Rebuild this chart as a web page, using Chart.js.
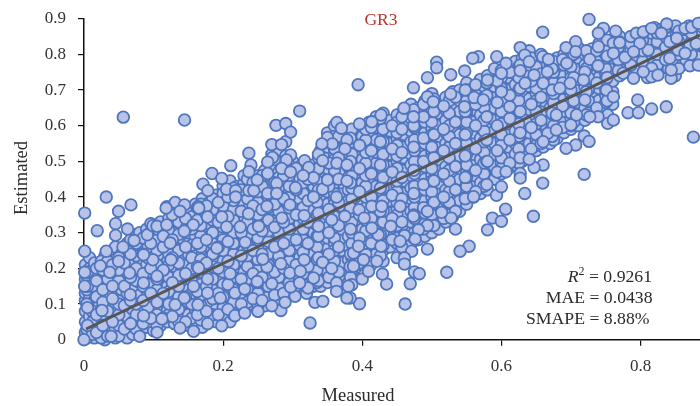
<!DOCTYPE html>
<html>
<head>
<meta charset="utf-8">
<script src="https://cdn.jsdelivr.net/npm/chart.js@4"></script>
<style>html,body{margin:0;padding:0;background:#fff;overflow:hidden}canvas{display:block}</style>
</head>
<body>
<canvas id="c" width="700" height="406"></canvas>
<script>
const xTicks = [0, 0.2, 0.4, 0.6, 0.8];
const yTicks = [0, 0.1, 0.2, 0.3, 0.4, 0.5, 0.6, 0.7, 0.8, 0.9];
const fitLineX = [0.003, 0.8855];
const fitLineY = [0.03, 0.854];

const columnsLow = [
[.002,[.02,.05,.08,.11,.13,.17,.21]],[.008,[.01,.035,.065,.095,.125,.16,.2,.23]],
[.015,[.005,.03,.06,.085,.11,.14,.175,.215]],[.022,[.012,.045,.075,.1,.13,.155,.19]],
[.03,[0,.025,.055,.09,.12,.15,.18,.21,.235]],[.038,[.015,.04,.07,.105,.135,.165,.2]],
[.045,[.005,.03,.06,.09,.125,.155,.185,.225,.26]],[.054,[.02,.05,.08,.11,.14,.17,.205,.24]],
[.062,[.005,.035,.065,.1,.13,.16,.195,.23,.27]],[.07,[.015,.05,.085,.115,.15,.18,.215,.25,.295]],
[.08,[.03,.06,.095,.125,.16,.195,.225,.265,.3]],[.09,[.035,.07,.105,.14,.175,.21,.245,.275,.31]],
[.1,[.025,.055,.09,.12,.155,.19,.225,.26,.29]],[.11,[.04,.075,.11,.145,.18,.205,.24,.275,.305,.33]],
[.12,[.05,.085,.12,.15,.19,.22,.25,.29,.32]],[.13,[.045,.075,.11,.14,.17,.205,.24,.265,.3,.335,.36]],
[.14,[.06,.095,.13,.16,.19,.225,.255,.285,.32,.35]],[.15,[.04,.07,.105,.14,.175,.21,.24,.27,.3,.335,.365]],
[.16,[.05,.085,.12,.155,.185,.22,.255,.29,.32,.35,.38]],[.17,[.035,.075,.11,.14,.17,.205,.24,.275,.305,.34,.365,.395]],
[.18,[.06,.1,.13,.16,.195,.23,.26,.29,.325,.355,.385]],[.19,[.05,.085,.12,.15,.18,.215,.245,.275,.31,.34,.37,.405]],
[.2,[.07,.105,.14,.17,.205,.235,.265,.295,.33,.36,.39,.43]],[.21,[.05,.09,.125,.16,.195,.225,.255,.285,.32,.35,.38,.41,.445]],
[.22,[.08,.115,.15,.185,.215,.245,.275,.31,.34,.37,.395,.43]],[.23,[.09,.12,.155,.19,.22,.25,.28,.315,.345,.38,.41,.44,.46]],
[.24,[.1,.135,.17,.2,.235,.265,.295,.325,.36,.39,.425,.455,.49]],[.25,[.08,.115,.145,.18,.21,.24,.27,.3,.335,.37,.4,.43,.46]],
[.26,[.095,.13,.165,.195,.225,.255,.29,.32,.35,.385,.415,.445,.475]],[.27,[.11,.14,.175,.205,.235,.27,.3,.33,.365,.395,.425,.455,.49,.52]],
[.28,[.1,.13,.16,.19,.22,.25,.285,.315,.345,.375,.41,.44,.47,.5,.53]],[.29,[.115,.145,.175,.205,.235,.265,.3,.33,.36,.39,.42,.45,.485,.515,.555]]
];
const columnsMid = [
[.3,[.135,.165,.195,.225,.255,.285,.315,.345,.38,.41,.44,.47,.5]],[.31,[.14,.17,.2,.23,.265,.295,.325,.36,.395,.425,.455,.485]],
[.32,[.13,.16,.19,.22,.25,.28,.31,.345,.375,.405,.435,.47]],[.33,[.15,.18,.21,.24,.27,.3,.335,.365,.395,.43,.46,.49]],
[.34,[.15,.18,.21,.245,.275,.31,.34,.37,.405,.44,.47,.5,.53]],[.35,[.16,.19,.225,.255,.285,.315,.35,.38,.415,.45,.48,.51,.54,.58]],
[.36,[.175,.205,.24,.27,.3,.33,.365,.395,.425,.46,.49,.52,.55,.6]],[.37,[.14,.18,.215,.25,.28,.31,.345,.375,.41,.44,.475,.505,.54,.565]],
[.38,[.16,.19,.225,.26,.29,.325,.355,.39,.42,.455,.485,.515,.55,.58]],[.39,[.2,.235,.27,.3,.335,.365,.4,.43,.465,.495,.525,.56,.59]],
[.4,[.17,.21,.245,.28,.31,.345,.375,.41,.44,.475,.505,.54,.57,.6]],[.41,[.225,.255,.29,.32,.355,.385,.42,.45,.485,.515,.55,.58,.61]],
[.42,[.24,.27,.3,.335,.365,.4,.43,.465,.495,.525,.56,.595,.625]],[.43,[.22,.25,.28,.315,.345,.375,.41,.44,.475,.51,.54,.57,.605,.635]],
[.44,[.26,.295,.325,.355,.39,.42,.455,.485,.52,.55,.585,.615]],[.45,[.23,.27,.305,.335,.365,.4,.43,.465,.5,.53,.565,.595,.63]],
[.46,[.25,.285,.315,.35,.38,.41,.445,.475,.51,.54,.575,.605,.64]],[.47,[.27,.3,.33,.36,.395,.425,.46,.49,.52,.555,.585,.62,.66]],
[.48,[.28,.31,.345,.375,.405,.44,.47,.505,.535,.57,.6,.63,.65]],[.49,[.29,.325,.355,.39,.42,.45,.485,.515,.55,.58,.61,.645,.67]],
[.5,[.3,.335,.365,.4,.43,.46,.495,.525,.56,.59,.625,.655,.69]],[.51,[.31,.345,.38,.41,.44,.475,.505,.54,.57,.6,.635,.665]],
[.52,[.33,.36,.39,.42,.455,.485,.52,.55,.58,.615,.645,.68]],[.53,[.345,.375,.405,.435,.47,.5,.53,.565,.595,.63,.66,.695]],
[.54,[.36,.39,.42,.45,.48,.515,.545,.575,.61,.64,.67,.7]],[.55,[.38,.41,.44,.47,.5,.53,.56,.59,.62,.655,.685,.72]],
[.56,[.4,.43,.46,.49,.52,.55,.58,.61,.645,.675,.705]],[.57,[.41,.44,.475,.505,.535,.565,.595,.63,.66,.69,.73]]
];
const columnsHigh = [
[.58,[.42,.45,.48,.515,.545,.575,.605,.64,.67,.7,.74]],[.59,[.45,.485,.52,.55,.585,.615,.65,.68,.71,.76]],
[.6,[.465,.495,.53,.56,.59,.625,.655,.69,.72,.755]],[.61,[.48,.51,.54,.575,.605,.64,.67,.7,.735,.77]],
[.62,[.49,.52,.55,.585,.62,.65,.68,.715,.745,.78]],[.63,[.5,.53,.565,.595,.63,.66,.695,.725,.76,.79]],
[.64,[.52,.55,.58,.61,.645,.675,.71,.74,.77,.81]],[.65,[.53,.56,.59,.625,.655,.69,.72,.75,.78]],
[.66,[.54,.575,.605,.64,.67,.7,.735,.77]],[.67,[.55,.585,.615,.65,.68,.715,.745,.775]],
[.68,[.565,.6,.63,.66,.695,.725,.755,.79]],[.69,[.58,.61,.64,.675,.705,.74,.77,.8]],
[.7,[.59,.62,.655,.685,.72,.75,.78,.81]],[.71,[.6,.635,.665,.7,.73,.76,.79,.82]],
[.72,[.615,.65,.68,.71,.74,.77,.8]],[.73,[.63,.66,.695,.725,.755,.785,.815]],
[.74,[.64,.67,.705,.735,.765,.795,.83]],[.75,[.65,.685,.715,.745,.78,.81]],
[.76,[.66,.695,.725,.76,.79,.82]],[.77,[.74,.77,.8,.85]],[.78,[.755,.785,.815]],[.79,[.74,.77,.8,.84]],
[.8,[.76,.79,.82,.85]],[.81,[.735,.77,.8,.83,.865]],[.82,[.75,.785,.815,.85,.875]],[.83,[.76,.795,.825,.87]],
[.84,[.775,.81,.84,.865]],[.85,[.74,.785,.82,.85,.88]],[.86,[.77,.8,.83,.865]],[.87,[.79,.81,.85,.88]],[.88,[.78,.81,.84,.865]]
];
const columnsExtra = [
[.005,[.04,.09,.15,.19]],[.018,[.02,.07,.12,.165,.2]],[.027,[.04,.105,.14,.195]],[.041,[.05,.115,.15,.21]],
[.058,[.03,.095,.15,.215]],[.067,[.045,.11,.175,.24,.28]],[.085,[.045,.11,.15,.185,.24,.285]],[.096,[.06,.13,.2,.27,.325]],
[.114,[.06,.13,.195,.26,.29]],[.127,[.065,.16,.23,.28,.35]],[.146,[.05,.12,.185,.26,.31,.34]],[.163,[.07,.135,.205,.27,.335,.37]],
[.176,[.08,.15,.215,.28,.35,.375]],[.193,[.07,.13,.2,.26,.33,.385]],[.207,[.085,.155,.22,.275,.345,.4]],[.226,[.1,.17,.235,.3,.36,.42]],
[.243,[.115,.185,.25,.31,.375,.44]],[.256,[.11,.175,.24,.305,.365,.43,.46]],[.274,[.125,.19,.26,.315,.38,.44,.505]],[.287,[.13,.2,.27,.33,.395,.46]],
[.305,[.15,.21,.28,.35,.42,.48]],[.322,[.145,.205,.27,.33,.39,.45]],[.337,[.165,.23,.29,.355,.42,.48,.51]],[.352,[.175,.24,.3,.365,.43,.495,.555]],
[.366,[.19,.26,.32,.385,.45,.51,.57]],[.383,[.175,.24,.31,.37,.44,.5,.565]],[.396,[.215,.285,.35,.415,.48,.545,.605]],[.413,[.21,.27,.34,.4,.465,.53,.595]],
[.426,[.235,.295,.36,.425,.49,.555,.62]],[.443,[.28,.34,.405,.47,.535,.6]],[.457,[.26,.33,.395,.455,.525,.59,.625]],[.474,[.285,.35,.41,.475,.54,.6,.645]],
[.488,[.31,.37,.435,.5,.565,.625,.66]],[.503,[.32,.385,.445,.51,.575,.64,.675]],[.517,[.34,.4,.465,.53,.59,.655]],[.534,[.36,.42,.485,.55,.61,.68]],
[.548,[.395,.455,.515,.575,.64,.7]],[.563,[.415,.475,.535,.6,.66,.715]],[.579,[.435,.5,.56,.625,.685,.72]],[.594,[.47,.53,.6,.665,.725]],
[.612,[.495,.56,.62,.685,.75]],[.627,[.51,.58,.64,.705,.77]],[.643,[.535,.595,.66,.725,.79]],[.657,[.55,.615,.68,.745,.8]],
[.673,[.57,.635,.7,.76]],[.688,[.595,.655,.72,.785]],[.704,[.61,.67,.735,.8]],[.722,[.63,.695,.76,.81]],
[.737,[.65,.72,.78,.81]],[.752,[.67,.735,.795,.84]],[.768,[.755,.785,.82]],[.786,[.77,.83,.85]],
[.803,[.78,.81,.84,.86]],[.824,[.77,.8,.835,.86]],[.836,[.785,.82,.85,.875]],[.855,[.76,.8,.835,.865]],[.873,[.8,.835,.86]]
];
const columnsFill = [
[.004,[.005,.03,.1,.14,.18]],[.012,[.015,.05,.08,.15,.185]],[.025,[.005,.06,.085,.17,.22]],[.034,[.01,.08,.13,.17,.22]],
[.05,[.01,.04,.07,.1,.165,.195,.23]],[.075,[.03,.07,.1,.165,.2,.235,.27]],[.092,[.05,.09,.155,.19,.23,.26,.295]],
[.105,[.04,.07,.105,.14,.17,.21,.25,.28,.31]],[.122,[.07,.1,.135,.175,.21,.24,.27,.305,.34]],[.136,[.05,.085,.12,.15,.18,.215,.25,.295,.33]],
[.155,[.06,.1,.13,.165,.2,.23,.265,.31,.345]],[.168,[.055,.095,.125,.155,.19,.225,.26,.29,.32,.35,.38]],
[.185,[.07,.115,.14,.17,.205,.24,.27,.3,.335,.365,.395]],[.2,[.09,.12,.155,.19,.22,.25,.28,.315,.345,.375,.41]],
[.215,[.07,.105,.14,.175,.21,.24,.27,.3,.335,.365,.39,.425]],[.235,[.105,.14,.17,.205,.235,.265,.295,.33,.365,.395,.425,.45]],
[.25,[.095,.13,.16,.195,.225,.255,.285,.32,.35,.385,.415,.445]],[.265,[.12,.15,.18,.21,.24,.275,.305,.335,.37,.4,.43,.46]],
[.28,[.115,.145,.175,.205,.235,.265,.3,.33,.36,.39,.425,.455]],[.295,[.13,.16,.19,.22,.25,.28,.31,.34,.37,.4,.43,.46,.49]],
[.315,[.155,.185,.215,.245,.28,.31,.34,.37,.41,.44,.47]],[.335,[.16,.195,.225,.26,.29,.32,.35,.385,.41,.445,.475]],
[.36,[.185,.22,.25,.285,.315,.345,.38,.41,.44,.475,.505,.535,.57]],[.385,[.195,.23,.27,.3,.33,.36,.395,.425,.46,.49,.52,.555,.59]],
[.405,[.24,.27,.305,.335,.37,.4,.43,.46,.495,.525,.56,.59]],[.43,[.265,.3,.33,.36,.39,.425,.455,.49,.52,.555,.59]],
[.45,[.285,.32,.35,.385,.415,.445,.48,.515,.545,.58,.61]],[.475,[.3,.34,.37,.4,.43,.465,.5,.53,.56,.595,.63]],
[.5,[.32,.35,.38,.415,.445,.48,.51,.54,.575,.61,.64,.67]],[.525,[.35,.385,.415,.445,.475,.51,.54,.57,.6,.635,.67]],
[.55,[.4,.43,.455,.49,.52,.55,.58,.61,.64,.67,.7]],[.575,[.43,.465,.495,.525,.555,.585,.615,.65,.68,.71]],
[.6,[.48,.51,.545,.575,.605,.64,.67,.705,.735]],[.625,[.495,.535,.57,.605,.64,.67,.7,.735,.765]],
[.65,[.545,.575,.605,.64,.67,.705,.735,.765]],[.675,[.56,.6,.63,.665,.69,.72,.75,.78]],
[.7,[.6,.635,.67,.7,.735,.765,.795]],[.725,[.635,.67,.7,.735,.765,.8]],[.75,[.665,.7,.73,.76,.79,.82]],
[.77,[.76,.79,.81,.835]],[.795,[.755,.785,.81,.83,.855]],[.815,[.75,.78,.81,.84,.86]],[.84,[.76,.795,.83,.85]],
[.865,[.785,.815,.845,.87]],[.88,[.795,.825,.85]]
];
const edgeLeft = [
[.0565,.624],[.1445,.616],[.032,.4],[.0675,.378],[.119,.373],[.131,.385],[.1445,.378],[.164,.373],[.001,.355],[.019,.3056],
[.0497,.36],[.0454,.3253],[.0626,.3103],[.0454,.2925],[.072,.278],[.001,.248],[.032,.248],[.056,.26],[.091,.294],[.099,.3196],
[.105,.318],[.119,.322],[.118,.369],[.138,.36],[.165,.369],[.157,.322],[.144,.304],[.1776,.344],[.198,.344],[.205,.316],
[.2245,.316],[.2365,.353],[.251,.318],[.263,.374],[.2844,.341],[.296,.378],[.3165,.348],[.337,.318],[.356,.336],[.375,.346],
[.124,.271],[.099,.224],[.0856,.238],[.0497,.22],[.0234,.207],[.001,.189],[.037,.189],[.0655,.187],[.001,.15],[.0856,.159],
[.105,.178],[.125,.224],[.1646,.201],[.191,.257],[.2317,.273],[.21,.185],[.1776,.17],[.1575,.15],[.0665,.126],[.0258,.082],
[.0856,.0673],[.112,.058],[.138,.033],[.1575,.0234],[.105,.0206],[.1776,.0449],[.198,.039],[.08,.0094],[.039,.0094],[0,0],
[.217,.0673],[.231,.075],[.25,.0795],[.283,.082],[.325,.047],[.332,.1047],[.3433,.1075],[.3035,.1215],[.289,.1047],[.27,.095],
[.1637,.098],[.144,.117],[.131,.098],[.196,.117],[.1776,.131],[.217,.131],[.231,.142],[.249,.163],[.27,.157],[.297,.148],
[.31,.159],[.296,.187],[.311,.192],[.283,.213],[.263,.204],[.257,.226],[.3165,.224],[.33,.173],[.343,.217],[.356,.2]
];
const edgeUpperMiddle = [
[.31,.641],[.276,.601],[.29,.606],[.297,.582],[.27,.547],[.284,.547],[.237,.523],[.297,.518],[.271,.511],[.211,.488],
[.264,.498],[.291,.504],[.184,.466],[.198,.452],[.237,.471],[.264,.466],[.284,.48],[.297,.47],[.317,.502],[.323,.483],
[.337,.52],[.343,.502],[.3635,.495],[.3635,.609],[.37,.593],[.35,.567],[.357,.549],[.342,.549],[.378,.56],[.375,.535],
[.171,.436],[.178,.418],[.205,.422],[.218,.418],[.218,.4],[.237,.418],[.244,.418],[.249,.448],[.277,.438],[.264,.41],
[.277,.41],[.304,.426],[.33,.454],[.343,.422],[.35,.448],[.378,.49],[.315,.46],[.33,.4],[.363,.4],[.378,.445]
];
const edgeUpperRight = [
[.726,.898],[.7466,.873],[.7394,.859],[.7643,.865],[.6594,.862],[.7394,.8215],[.7068,.8355],[.693,.819],[.7068,.8075],[.627,.819],
[.6336,.798],[.64,.7794],[.6594,.7934],[.6676,.786],[.5933,.7934],[.6067,.775],[.567,.7934],[.5588,.789],[.507,.778],[.507,.7626],
[.4937,.7346],[.5272,.7429],[.5473,.7532],[.394,.715],[.4736,.7065],[.58,.728],[.6,.747],[.627,.754],[.647,.742],[.666,.751],
[.694,.775],[.72,.751],[.727,.786],[.739,.768],[.761,.831],[.77,.833],[.761,.803],[.7777,.7916],[.775,.747],[.79,.733],
[.794,.859],[.804,.863],[.816,.873],[.8376,.885],[.83,.859],[.864,.873],[.8735,.876],[.883,.887],[.842,.8355],[.852,.845],
[.811,.812],[.799,.831],[.79,.807],[.842,.789],[.871,.826],[.88,.83],[.871,.768],[.883,.77],[.816,.761],[.844,.733],
[.816,.737],[.825,.742],[.844,.756],[.804,.751],[.854,.812],[.864,.803],
[.4137,.611],[.427,.63],[.46,.649],[.4736,.625],[.4937,.681],[.527,.689],[.502,.667],[.547,.653],[.5607,.679],[.574,.672],
[.6,.695],[.612,.653],[.634,.719],[.66,.719],[.684,.705],[.699,.719],[.718,.728],[.751,.7],[.761,.681]
];
const edgeLowerRight = [
[.796,.672],[.782,.6364],[.797,.6364],[.816,.647],[.837,.653],[.876,.568],[.7528,.63],[.7528,.6065],[.761,.616],[.739,.625],
[.719,.571],[.726,.556],[.7068,.546],[.693,.5364],[.719,.4635],[.66,.49],[.647,.483],[.6594,.439],[.64,.5056],[.627,.4663],
[.627,.453],[.6336,.41],[.593,.405],[.6,.429],[.56,.401],[.6067,.471],[.58,.5],[.6666,.5785],[.66,.555],[.679,.63],
[.7,.602],[.679,.588],[.72,.672],[.708,.63],[.727,.625],
[.646,.346],[.606,.366],[.587,.341],[.6,.332],[.58,.308],[.534,.31],[.5277,.341],[.514,.357],[.4937,.36],[.4937,.32],
[.4937,.254],[.5536,.262],[.5406,.248],[.471,.248],[.4607,.229],[.4607,.212],[.475,.19],[.482,.185],[.5215,.189],[.469,.157],
[.435,.156],[.429,.184],[.4616,.1],[.396,.101],[.409,.215],[.409,.192],[.3874,.243],[.427,.262],[.423,.294],[.441,.318],
[.4607,.292],[.4736,.346],[.4808,.308],[.4544,.276],[.476,.282],[.385,.154],[.3826,.205],[.3874,.206],[.3946,.262],[.4137,.374],
[.428,.374],[.4544,.374],[.3955,.364],[.4027,.341],[.4137,.313],[.4018,.224],[.421,.22],[.3826,.117],[.378,.117],[.38,.15],
[.363,.159],[.363,.1355]
];

const pts = [];
[columnsLow, columnsMid, columnsHigh, columnsFill, columnsExtra].forEach(g => g.forEach(([x, ys]) => ys.forEach(y => pts.push({x, y}))));
[edgeLeft, edgeUpperMiddle, edgeUpperRight, edgeLowerRight].forEach(g => g.forEach(([x, y]) => pts.push({x, y})));

const serif = '"Liberation Serif", serif';
const textPlugin = {
  id: 'texts',
  afterDraw(chart) {
    const c = chart.ctx;
    c.save();
    c.textBaseline = 'alphabetic';
    c.fillStyle = '#b5372e';
    c.font = '17.5px ' + serif;
    c.textAlign = 'center';
    c.fillText('GR3', 381, 24.5);
    c.fillStyle = '#2b2b2b';
    c.font = '18.5px ' + serif;
    c.fillText('Measured', 358, 401);
    c.save();
    c.translate(26.5, 178);
    c.rotate(-Math.PI / 2);
    c.fillText('Estimated', 0, 0);
    c.restore();
    c.textAlign = 'right';
    c.font = '17.7px ' + serif;
    c.fillText('MAE = 0.0438', 652.5, 302.5);
    c.fillText('SMAPE = 8.88%', 649.5, 324);
    c.fillText(' = 0.9261', 652, 282);
    const w = c.measureText(' = 0.9261').width;
    c.font = '12px ' + serif;
    c.fillText('2', 652 - w, 275);
    const w2 = c.measureText('2').width;
    c.font = 'italic 17.7px ' + serif;
    c.fillText('R', 652 - w - w2, 282);
    c.restore();
  }
};

new Chart(document.getElementById('c'), {
  type: 'scatter',
  data: {
    datasets: [
      {
        type: 'line',
        data: fitLineX.map((x, i) => ({x, y: fitLineY[i]})),
        borderColor: '#565656',
        borderWidth: 3,
        pointRadius: 0,
        order: 0,
        clip: false
      },
      {
        data: pts,
        pointRadius: 5.8,
        pointBackgroundColor: '#b7c3e8',
        pointBorderColor: '#4f75bf',
        pointBorderWidth: 1.8,
        order: 1,
        clip: false
      }
    ]
  },
  options: {
    responsive: false,
    animation: false,
    layout: { autoPadding: false, padding: { top: 18.7, right: 0, left: 0, bottom: 0 } },
    plugins: { legend: { display: false }, tooltip: { enabled: false } },
    scales: {
      x: {
        type: 'linear', min: 0, max: 0.8855,
        afterFit: s => { s.height = 66.3; s.paddingLeft = 0; s.paddingRight = 0; },
        afterBuildTicks: s => { s.ticks = xTicks.map(value => ({value})); },
        grid: { drawOnChartArea: false, drawTicks: true, tickLength: 6, color: '#111', lineWidth: 1.2 },
        border: { display: true, color: '#111', width: 1.5 },
        ticks: { color: '#333', padding: 11, maxRotation: 0, font: { family: serif, size: 17 }, callback: v => String(v) }
      },
      y: {
        type: 'linear', min: 0, max: 0.9,
        afterFit: s => { s.width = 84; s.paddingTop = 0; s.paddingBottom = 0; },
        afterBuildTicks: s => { s.ticks = yTicks.map(value => ({value})); },
        grid: { drawOnChartArea: false, drawTicks: true, tickLength: 6, color: '#111', lineWidth: 1.2 },
        border: { display: true, color: '#111', width: 1.5 },
        ticks: { color: '#333', padding: 12, font: { family: serif, size: 17 }, callback: v => String(v) }
      }
    }
  },
  plugins: [textPlugin]
});
</script>
</body>
</html>
